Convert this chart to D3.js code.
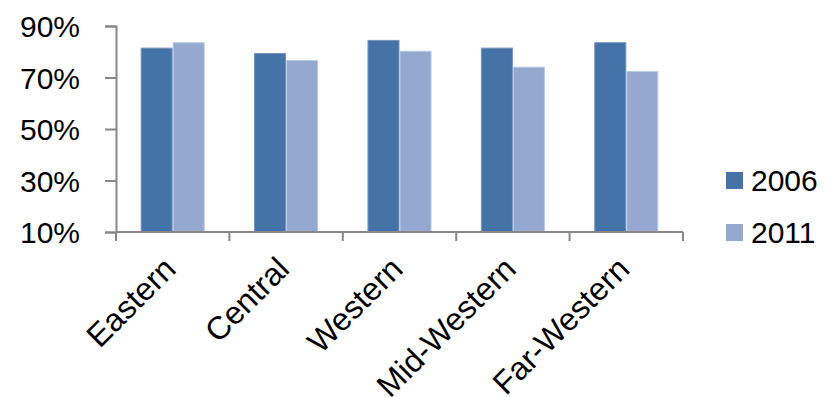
<!DOCTYPE html>
<html>
<head>
<meta charset="utf-8">
<script src="https://cdn.jsdelivr.net/npm/d3@7"></script>
<style>
  html, body { margin: 0; padding: 0; background: #fff; }
  svg { display: block; font-family: "Liberation Sans", Arial, sans-serif; }
</style>
</head>
<body>
<svg id="chart" width="825" height="397"></svg>
<script>
// Regions and shares (%) for the two survey years
const regions = ["Eastern", "Central", "Western", "Mid-Western", "Far-Western"];
const years = ["2006", "2011"];
const values2006 = [81.6, 79.5, 84.6, 81.6, 83.7];
const values2011 = [83.7, 76.8, 80.4, 74.2, 72.5];
const yTicks = [10, 30, 50, 70, 90];
const colors = ["#4572A7", "#95A9D0"];
const edgeColors = ["#7393C0", "#BACAE6"];

const svg = d3.select("#chart");
const plotLeft = 116, plotRight = 683, plotTop = 26, plotBottom = 232;

const x0 = d3.scaleBand().domain(regions).range([plotLeft, plotRight]).paddingInner(0).paddingOuter(0);
const x1 = d3.scaleBand().domain(years).range([0, x0.bandwidth()]).paddingInner(0).paddingOuter(0.77);
const y = d3.scaleLinear().domain([10, 90]).range([plotBottom, plotTop]);

const series = [values2006, values2011];

// bars
const groups = svg.append("g").selectAll("g")
  .data(regions)
  .join("g")
  .attr("transform", d => `translate(${x0(d)},0)`);

groups.selectAll("rect")
  .data((d, i) => years.map((yr, k) => ({ yr, k, v: series[k][i] })))
  .join("rect")
  .attr("x", d => x1(d.yr) + 0.5)
  .attr("width", x1.bandwidth() - 1)
  .attr("y", d => y(d.v) + 0.5)
  .attr("height", d => y(10) - y(d.v) - 0.5)
  .attr("fill", d => colors[d.k])
  .attr("stroke", d => edgeColors[d.k])
  .attr("stroke-width", 1);

// y axis
const yAxis = d3.axisLeft(y).tickValues(yTicks).tickSize(11).tickPadding(25)
  .tickFormat(d => d + "%");
const gy = svg.append("g").attr("transform", `translate(${plotLeft},0)`).call(yAxis);
gy.select(".domain").attr("stroke", "#888").attr("stroke-width", 2);
gy.selectAll(".tick line").attr("stroke", "#888").attr("stroke-width", 2);
gy.selectAll(".tick text").attr("font-size", 30).attr("fill", "#000")
  .attr("font-family", "'Liberation Sans', Arial, sans-serif").attr("dy", "0.36em");

// x axis with ticks at category boundaries
const gx = svg.append("g").attr("transform", `translate(0,${plotBottom})`);
gx.append("line").attr("x1", plotLeft).attr("x2", plotRight).attr("stroke", "#888").attr("stroke-width", 2);
const boundaries = regions.map(r => x0(r)).concat([x0(regions[regions.length - 1]) + x0.bandwidth()]);
gx.selectAll("line.tk").data(boundaries).join("line").attr("class", "tk")
  .attr("x1", d => d).attr("x2", d => d).attr("y1", 0).attr("y2", 9)
  .attr("stroke", "#888").attr("stroke-width", 2);

gx.selectAll("text").data(regions).join("text")
  .attr("transform", d => `translate(${x0(d) + x0.bandwidth() / 2 + 5},${39}) rotate(-45)`)
  .attr("text-anchor", "end")
  .attr("font-size", 32)
  .attr("fill", "#000")
  .text(d => d);

// legend
const legend = svg.append("g").selectAll("g").data(years).join("g")
  .attr("transform", (d, i) => `translate(726,${172 + i * 52})`);
legend.append("rect").attr("width", 17).attr("height", 17).attr("fill", (d, i) => colors[i]);
legend.append("text").attr("x", 25).attr("y", 8.5).attr("dy", "0.36em")
  .attr("font-size", 30).attr("fill", "#000").text(d => d);
</script>
</body>
</html>
